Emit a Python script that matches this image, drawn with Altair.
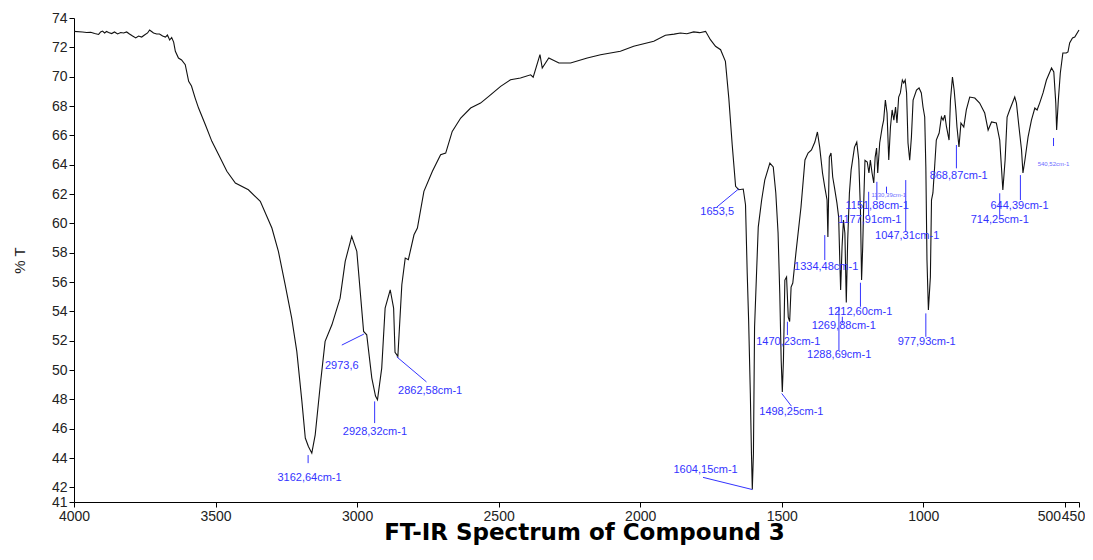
import altair as alt
import pandas as pd

# ---- spectrum (wavenumber cm-1, %T) ----
wavenumber = [
    4000, 3970, 3955, 3941, 3927, 3913, 3906, 3899, 3892, 3885, 3878, 3867, 3857, 3846, 3835,
    3825, 3814, 3804, 3793, 3782, 3772, 3761, 3751, 3740, 3733, 3726, 3719, 3708, 3698, 3687,
    3677, 3670, 3662, 3655, 3648, 3642, 3631, 3620, 3607, 3595, 3585, 3572, 3560, 3536, 3513,
    3489, 3460, 3430, 3384, 3342, 3301, 3278, 3254, 3231, 3213, 3195, 3183, 3172, 3160, 3148,
    3130, 3113, 3089, 3060, 3042, 3019, 3001, 2977, 2966, 2948, 2935, 2928, 2913, 2901, 2883,
    2871, 2866, 2856, 2842, 2830, 2819,
    2799, 2787, 2764, 2734, 2705, 2687, 2664, 2634, 2599, 2564, 2535, 2493, 2458, 2423, 2387,
    2378, 2354, 2346, 2323, 2287, 2246, 2187, 2140, 2070, 2023, 1952, 1911, 1880, 1858, 1835,
    1811, 1790, 1769, 1752, 1734, 1716, 1699, 1687, 1675, 1663, 1652, 1636,
    1628, 1622, 1617, 1611, 1607, 1604, 1600, 1596, 1589, 1583, 1571, 1560, 1542, 1530, 1521,
    1513, 1507, 1502, 1498, 1494, 1489, 1483, 1477, 1472, 1467, 1461, 1450, 1432, 1418, 1407,
    1395, 1383, 1374, 1366, 1356, 1348, 1340, 1337, 1332, 1326, 1320, 1314, 1305, 1299, 1295,
    1292, 1287, 1282, 1277, 1272, 1267, 1261, 1255, 1243, 1235, 1228, 1222, 1218, 1214, 1210,
    1206, 1198, 1192, 1187, 1181, 1175, 1170, 1165, 1161, 1154, 1145, 1140, 1134, 1128, 1122,
    1116, 1110, 1104, 1098, 1093, 1087, 1081, 1074, 1069, 1064, 1059, 1054, 1048, 1042, 1036,
    1024, 1015, 1007, 1001, 995, 991, 987, 982, 975, 971, 966, 960, 954, 944, 936,
    930, 924, 918, 909, 904, 897, 891, 885, 881, 874, 867, 857, 848, 836, 818,
    801, 783, 771, 759, 742, 730, 724, 719, 711, 704, 695, 677, 671, 662, 653,
    648, 641, 630, 618, 606, 598, 589, 577, 565, 547, 539, 532, 529, 523, 516,
    507, 495, 489, 483, 473, 465, 450,
]
transmittance = [
    73.09, 73.05, 73.01, 73.03, 72.94, 72.88, 73.05, 73.11, 72.98, 73.08, 73.01, 72.94, 73.05, 72.91, 73.01,
    72.98, 73.05, 72.91, 72.77, 72.64, 72.77, 72.70, 72.84, 72.98, 73.18, 73.08, 72.98, 72.91, 72.91, 72.77,
    72.70, 72.84, 72.50, 72.67, 72.36, 71.73, 71.27, 71.14, 70.82, 69.68, 69.36, 68.54, 67.86, 66.72, 65.59,
    64.68, 63.55, 62.75, 62.29, 61.50, 59.68, 58.09, 55.81, 53.54, 51.27, 47.86, 45.36, 44.79, 44.33, 45.58,
    48.99, 51.95, 53.08, 54.90, 57.41, 59.11, 58.09, 52.63, 52.40, 49.45, 48.22, 47.97, 50.13, 54.22, 55.47,
    54.22, 51.20, 50.93, 55.81, 57.63, 57.52,
    59.22, 59.68, 62.18, 63.55, 64.68, 64.79, 66.27, 67.18, 67.86, 68.20, 68.66, 69.34, 69.79, 69.91, 70.13,
    69.96, 71.50, 70.59, 71.27, 70.93, 70.93, 71.27, 71.50, 71.73, 72.07, 72.41, 72.82, 72.90, 72.98, 72.93,
    73.05, 73.00, 73.09, 72.52, 72.07, 71.84, 71.04, 68.54, 65.36, 62.52, 62.29, 62.34,
    61.27, 56.61, 53.40, 48.43, 44.33, 41.85, 44.33, 52.93, 56.61, 59.74, 61.59, 62.95, 64.11, 63.84, 62.07,
    59.34, 55.25, 50.68, 48.50, 50.68, 56.13, 56.34, 53.61, 53.30, 55.65, 55.93, 57.97, 61.11, 64.32, 64.79,
    65.00, 65.54, 66.23, 65.20, 63.43, 62.47, 61.59, 59.07, 64.52, 64.79, 63.16, 62.47, 61.38, 60.43, 57.50,
    55.45, 58.38, 60.22, 59.34, 54.60, 58.86, 62.07, 63.63, 65.20, 65.54, 64.32, 60.91, 56.13, 58.40, 61.70,
    64.30, 64.18, 63.43, 64.32, 63.43, 62.75, 64.52, 65.13, 63.43, 65.48, 66.57, 67.04, 68.41, 67.52, 64.32,
    66.57, 67.73, 67.04, 67.93, 66.84, 68.61, 68.89, 69.77, 69.57, 69.77, 68.89, 65.48, 64.30, 65.88, 68.41,
    69.09, 69.23, 68.89, 67.93, 67.25, 63.84, 57.50, 54.09, 56.34, 61.59, 62.07, 63.84, 65.68, 66.16, 67.25,
    67.04, 67.38, 66.57, 65.68, 68.41, 69.98, 69.09, 67.73, 66.57, 65.20, 66.84, 66.57, 67.73, 68.61, 68.54,
    68.20, 67.52, 66.36, 66.91, 66.84, 65.68, 63.84, 62.27, 64.32, 67.25, 67.73, 68.61, 68.20, 66.57, 65.00,
    63.43, 64.32, 65.88, 67.04, 67.86, 67.73, 68.20, 68.89, 69.77, 70.59, 70.32, 68.20, 66.36, 68.41, 70.25,
    71.61, 71.61, 71.68, 72.30, 72.64, 72.70, 73.18,
]

# ---- peak annotations ----
peak_labels = ["3162,64cm-1", "2973,6", "2928,32cm-1", "2862,58cm-1", "1653,5", "1604,15cm-1",
               "1498,25cm-1", "1470,23cm-1", "1334,48cm-1", "1288,69cm-1", "1269,88cm-1",
               "1212,60cm-1", "1177,91cm-1", "1151,88cm-1", "1047,31cm-1", "977,93cm-1",
               "868,87cm-1", "714,25cm-1", "644,39cm-1"]
leader_wn_start = [3173, 2976, 2938, 2860, 1652, 1604, 1500, 1480, 1348, 1298, 1286, 1222, 1193, 1164, 1062, 991, 883, 730, 657]
leader_t_start = [44.20, 52.45, 47.86, 50.90, 62.35, 41.85, 48.40, 53.29, 59.20, 54.31, 53.63, 55.95, 62.15, 62.83, 62.95, 53.86, 65.34, 62.05, 63.29]
leader_wn_end = [3173, 3054, 2938, 2755, 1730, 1778, 1466, 1480, 1348, 1298, 1286, 1222, 1193, 1164, 1062, 991, 883, 730, 657]
leader_t_end = [43.65, 51.70, 46.38, 49.19, 61.10, 42.68, 47.54, 52.38, 57.50, 51.36, 53.18, 54.31, 60.50, 61.59, 59.42, 52.26, 63.75, 60.56, 61.59]
label_wn = [3168, 3054, 2937, 2742, 1728, 1769, 1466, 1477, 1343, 1297, 1281, 1223, 1189, 1163, 1057, 988, 875, 730, 660]
label_t = [42.63, 50.25, 45.77, 48.60, 60.75, 43.17, 47.11, 51.92, 57.04, 51.02, 53.02, 53.97, 60.22, 61.20, 59.13, 51.92, 63.22, 60.22, 61.20]

# faint, barely legible labels
small_labels = ["1130,39cm-1", "540,52cm-1"]
small_wn_start = [1130, 540]
small_t_start = [62.50, 65.82]
small_t_end = [62.05, 65.27]
small_label_wn = [1122, 540]
small_label_t = [61.93, 64.02]

x_ticks = [4000, 3500, 3000, 2500, 2000, 1500, 1000, 500, 450]
y_ticks = [41, 42, 44, 46, 48, 50, 52, 54, 56, 58, 60, 62, 64, 66, 68, 70, 72, 74]

spec = pd.DataFrame({"wn": wavenumber, "t": transmittance})
ann = pd.DataFrame({"label": peak_labels, "x1": leader_wn_start, "y1": leader_t_start,
                    "x2": leader_wn_end, "y2": leader_t_end, "lx": label_wn, "ly": label_t})
small = pd.DataFrame({"label": small_labels, "x1": small_wn_start, "y1": small_t_start,
                      "y2": small_t_end, "lx": small_label_wn, "ly": small_label_t})

BLUE = "#3333ff"
xscale = alt.Scale(domain=[4000, 450], nice=False, zero=False)
yscale = alt.Scale(domain=[41, 74], nice=False, zero=False)

xaxis = alt.Axis(
    values=x_ticks, title="FT-IR Spectrum of Compound 3", format="d",
    labelOverlap=False, labelFlush=False, labelBound=False,
    labelOffset={"condition": [{"test": "datum.value == 500", "value": -16},
                               {"test": "datum.value == 450", "value": -6}],
                 "value": 0},
    labelFont="Liberation Sans", labelFontSize=14, labelColor="#222", labelPadding=2,
    tickSize=5, tickColor="#000", domainColor="#000", grid=False,
    titleFont="DejaVu Sans", titleFontWeight="bold", titleFontSize=23, titleColor="#000",
    titleBaseline="alphabetic", titleAlign="center", titleX=510, titleY=37,
)
yaxis = alt.Axis(
    values=y_ticks, title="% T", format="d", labelOverlap=False, labelFlush=False, labelBound=False,
    labelFont="Liberation Sans", labelFontSize=14, labelColor="#222", labelPadding=2,
    tickSize=5, tickColor="#000", domainColor="#000", grid=False,
    titleFont="Liberation Sans", titleFontSize=15, titleFontWeight="normal",
    titleColor="#222", titlePadding=24,
)


def X(field):
    return alt.X(field, type="quantitative", scale=xscale, axis=xaxis)


def Y(field):
    return alt.Y(field, type="quantitative", scale=yscale, axis=yaxis)


line = alt.Chart(spec).mark_line(color="#111111", strokeWidth=1.1).encode(
    x=X("wn"), y=Y("t"),
    order=alt.Order("wn:Q", sort="descending"),
)

leaders = alt.Chart(ann).mark_rule(color=BLUE, strokeWidth=1).encode(
    x=X("x1"), y=Y("y1"), x2="x2:Q", y2="y2:Q")
texts = alt.Chart(ann).mark_text(color=BLUE, fontSize=11, font="Liberation Sans",
                                 baseline="middle", align="center").encode(
    x=X("lx"), y=Y("ly"), text="label:N")

small_rules = alt.Chart(small).mark_rule(color=BLUE, strokeWidth=1).encode(
    x=X("x1"), y=Y("y1"), y2="y2:Q")
small_texts = alt.Chart(small).mark_text(color="#6b6bff", fontSize=6, font="Liberation Sans",
                                         baseline="middle", align="center").encode(
    x=X("lx"), y=Y("ly"), text="label:N")

chart = alt.layer(line, leaders, texts, small_rules, small_texts).properties(
    width=1005, height=484,
    padding={"left": 66, "top": 10, "right": 6, "bottom": 45},
    autosize=alt.AutoSizeParams(type="none"),
    background="white",
).configure_view(stroke=None)

chart.save("out.html", embed_options={"renderer": "svg", "actions": False})
